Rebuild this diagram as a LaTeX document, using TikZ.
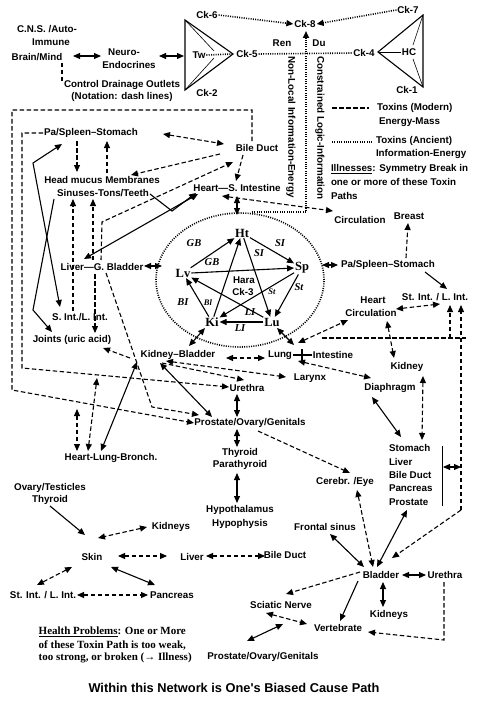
\documentclass[tikz,border=0pt]{standalone}
\usepackage{fontspec}
\newfontfamily\ar{Liberation Sans}
\newfontfamily\tm{Liberation Serif}
\usetikzlibrary{arrows.meta}
\begin{document}
\begin{tikzpicture}[x=1pt,y=-1pt,
  >={Triangle[length=7pt,width=6pt]},
  t/.style={font=\ar\bfseries\fontsize{9.8}{11}\selectfont, inner sep=0.8pt},
  tl/.style={t, anchor=west},
  org/.style={font=\tm\bfseries\fontsize{12.5}{14}\selectfont, inner sep=0.8pt},
  lab/.style={font=\tm\bfseries\itshape\fontsize{10.5}{12}\selectfont, inner sep=0.5pt},
  labs/.style={font=\tm\bfseries\itshape\fontsize{8.5}{10}\selectfont, inner sep=0.5pt},
  hp/.style={font=\tm\bfseries\fontsize{11}{13}\selectfont, inner sep=0.5pt, anchor=west},
  ln/.style={line width=1.1pt},
  thinln/.style={line width=0.6pt},
  dsh/.style={line width=1.1pt, dash pattern=on 4.5pt off 2.5pt},
  dot/.style={line width=1.6pt, dash pattern=on 1pt off 1.3pt}]
\path[use as bounding box] (0,0) rectangle (480,706);

% ---------- top ----------
\node[t] (cns1) at (47,29) {C.N.S. /Auto-};
\node[t] (cns2) at (51,42) {Immune};
\node[t] (brain) at (37,57) {Brain/Mind};
\node[t] (neu1) at (124,52) {Neuro-};
\node[t] (neu2) at (129,65) {Endocrines};
\node[t] (ctl1) at (122,85) {Control Drainage Outlets};
\node[t] (ctl2) at (122,97) {(Notation: dash lines)};
\draw[dsh] (62,63) -- (62,81);
\draw[ln,<->] (73,56) -- (101,56);
\draw[ln,<->] (159,56) -- (184,56);

\coordinate (twA) at (185,20);
\coordinate (twB) at (185,90);
\coordinate (twC) at (233,54);
\draw[ln] (twA) -- (twB) -- (twC) -- cycle;
\draw[thinln] (twA) -- (214,51);
\draw[thinln] (twB) -- (214,58);
\node[t] (tw) at (199,55) {Tw};
\draw[dot] (tw.east) -- (twC);
\node[t] (ck6) at (207,15) {Ck-6};
\node[t] (ck2) at (207,93) {Ck-2};
\node[t] (ck5) at (247,54) {Ck-5};
\node[t] (ck8) at (305,24) {Ck-8};
\node[t] (ren) at (282,43) {Ren};
\node[t] (du) at (319,43) {Du};

\coordinate (hcT) at (423,15);
\coordinate (hcB) at (423,87);
\coordinate (hcL) at (378,52);
\draw[ln] (hcT) -- (hcB) -- (hcL) -- cycle;
\node[t] (hc) at (409,52) {HC};
\draw[thinln] (hcL) -- (hc.west);
\draw[thinln] (hcT) -- (413,45);
\draw[thinln] (hcB) -- (413,59);
\node[t] (ck7) at (408,10) {Ck-7};
\node[t] (ck4) at (364,53) {Ck-4};
\node[t] (ck1) at (407,90) {Ck-1};

\draw[dot,->] (ck6.east) -- (ck8.west);
\draw[dot,->] (ck7.west) -- (ck8.east);
\draw[dot] (ck5.east) -- (ck4.west);
\coordinate (dtop) at (306,212);
\draw[dot,->] (252,212) -- (dtop) -- (306,31);
\node[t, rotate=-90] (nonloc) at (291,127) {Non-Local Information-Energy};
\node[t, rotate=-90] (constr) at (320,128) {Constrained Logic-Information};

% ---------- legend ----------
\draw[dsh] (332,108) -- (369,108);
\node[tl] (tox1) at (376,108) {Toxins (Modern)};
\node[tl] (em) at (378,122) {Energy-Mass};
\draw[dot] (332,142) -- (372,142);
\node[tl] (tox2) at (375,141) {Toxins (Ancient)};
\node[tl] (ie) at (375,154) {Information-Energy};
\node[tl] (ill1) at (330,169) {\underline{Illnesses}: Symmetry Break in};
\node[tl] (ill2) at (330,182) {one or more of these Toxin};
\node[tl] (ill3) at (330,196) {Paths};

% ---------- frame area ----------
\node[t] (psl) at (91,133) {Pa/Spleen–Stomach};
\node[t] (bile) at (257,148) {Bile Duct};
\node[t] (hmm1) at (102,180) {Head mucus Membranes};
\node[t] (hmm2) at (103,193) {Sinuses-Tons/Teeth};
\node[t] (heart) at (237,188) {Heart—S. Intestine};
\node[t] (liv) at (102,267) {Liver—G. Bladder};
\node[t] (sil) at (80,317) {S. Int./L. Int.};
\node[t] (joints) at (72,340) {Joints (uric acid)};

% outer and inner dashed frames
\draw[dsh,->] (252,141) -- (252,110) -- (12,110) -- (12,390) -- (194,423);
\draw[dsh,->] (psl.west) -- (22,133) -- (22,368) -- (229,387);

\draw[dsh,<->] (163,134) -- (224,144);
\draw[dsh,->] (77,141) -- (77,172);
\draw[dsh,->] (107,173) -- (107,141);
\draw[dsh,->] (220,154) -- (131,175);
\draw[dsh,->] (243,155) -- (236,181);
\draw[ln,<->] (62,144) -- (33,163) -- (60,307);
\draw[ln,->] (54,199) -- (33,310) -- (52,332);
\draw[ln,->] (150,194) -- (172,211) -- (196,193);
\draw[ln,<->] (84,259) -- (198,194);
\draw[dsh,->] (101,260) -- (102,222) -- (233,162);
\draw[dsh,->] (73,311) -- (73,199);
\draw[dsh,->] (93,260) -- (93,199);
\draw[dsh,->] (95,274) -- (95,333);
\draw[dsh,->] (106,273) -- (152,407) -- (199,415);

% ---------- ellipse ----------
\draw[dot] (240,280) ellipse [x radius=84pt, y radius=67pt];
\draw[ln,<->] (237,196) -- (237,215);
\draw[ln,<->] (144,266) -- (162,266);
\draw[ln,<->] (322,265) -- (338,265);
\draw[dsh,<->] (222,196) -- (333,211);

\node[org] (ht) at (242,233) {Ht};
\node[org] (sp) at (302,268) {Sp};
\node[org] (lv) at (183,273) {Lv};
\node[org] (ki) at (212,322) {Ki};
\node[org] (lu) at (272,322) {Lu};
\node[t] (hara) at (244,280) {Hara};
\node[t] (ck3) at (243,292) {Ck-3};
\draw[ln,->] (lv) -- (ht);
\draw[ln,->] (ht) -- (sp);
\draw[ln,->] (ht) -- (lu);
\draw[ln,->] (ki) -- (ht);
\draw[ln,->] (lv.east) -- (sp.west);
\draw[ln,->] (sp) -- (ki);
\draw[ln,->] (sp) -- (lu);
\draw[ln,->] (lu) -- (lv);
\draw[ln,->] (ki) -- (lv);
\draw[ln,->] (lu) -- (ki);
\node[lab] (gb1) at (194,243) {GB};
\node[lab] (si1) at (280,243) {SI};
\node[lab] (gb2) at (212,262) {GB};
\node[lab] (si2) at (259,253) {SI};
\node[lab] (st1) at (299,287) {St};
\node[labs] (st2) at (272,292) {St};
\node[lab] (bi1) at (183,302) {BI};
\node[labs] (bi2) at (208,303) {Bl};
\node[lab] (li1) at (250,312) {LI};
\node[lab] (li2) at (240,328) {LI};

% ---------- right side ----------
\node[t] (circ) at (360,220) {Circulation};
\node[t] (breast) at (409,216) {Breast};
\node[t] (psr) at (388,265) {Pa/Spleen–Stomach};
\node[t] (stint) at (435,297) {St. Int. / L. Int.};
\node[t] (hc1) at (373,300) {Heart};
\node[t] (hc2) at (371,313) {Circulation};
\node[t] (kidney) at (407,367) {Kidney};
\node[t] (diaph) at (390,388) {Diaphragm};
\node[tl] (stom) at (388,448) {Stomach};
\node[tl] (livr) at (388,461.5) {Liver};
\node[tl] (bd2) at (388,475) {Bile Duct};
\node[tl] (panc2) at (388,488.5) {Pancreas};
\node[tl] (pros2) at (388,502) {Prostate};
\draw[line width=0.8pt] (442,446) -- (442,506);

\draw[dsh,->] (406,258) -- (408,223);
\draw[ln,->] (425,272) -- (447,289);
\draw[dsh,<->] (396,309) -- (440,304);
\draw[dsh] (322,338) -- (466,338);
\draw[dsh,->] (450,338) -- (450,305);
\coordinate (rbend) at (461,510);
\draw[dsh,->] (rbend) -- (461,305);
\draw[dsh,->] (rbend) -- (392,558);
\draw[ln,<->] (443,467) -- (461,467);
\draw[dsh,<->] (387,321) -- (394,358);
\draw[dsh,<->] (423,376) -- (422,440);
\draw[ln,<->] (372,397) -- (401,437);

% ---------- middle ----------
\node[t] (kb) at (178,355) {Kidney–Bladder};
\node[t] (lung) at (280,355) {Lung};
\node[t] (intes) at (333,355) {Intestine};
\draw[ln] (lung.east) -- (intes.west);
\draw[ln] (302,349) -- (302,362);
\node[t] (larynx) at (310,378) {Larynx};
\node[t] (ureth) at (247,388) {Urethra};
\node[t] (prost) at (250,423) {Prostate/Ovary/Genitals};
\node[t] (hlb) at (111,458) {Heart-Lung-Bronch.};
\node[t] (thy) at (240,453) {Thyroid};
\node[t] (para) at (240,465) {Parathyroid};
\node[t] (hypo1) at (240,510) {Hypothalamus};
\node[t] (hypo2) at (240,524) {Hypophysis};

\draw[ln,<->] (277,328) -- (294,345);
\draw[ln,<->] (205,328) -- (189,346);
\draw[dsh,<->] (226,358) -- (265,358);
\draw[dsh,<->] (298,343) -- (348,320);
\draw[dsh,<->] (298,361) -- (371,378);
\draw[dsh,<->] (166,361) -- (286,377);
\draw[dsh,->] (162,363) -- (244,380);
\draw[dsh,->] (130,358) -- (103,348);
\draw[ln,<->] (160,363) -- (212,417);
\draw[ln,<->] (137,362) -- (101,451);
\draw[dsh,<->] (77,409) -- (77,451);
\draw[dsh,<->] (97,378) -- (88,451);
\draw[ln,<->] (237,394) -- (237,417);
\draw[ln,<->] (237,429) -- (237,447);
\draw[ln,<->] (237,473) -- (237,503);

% ---------- lower right ----------
\node[t] (cer) at (345,482) {Cerebr. /Eye};
\node[t] (front) at (325,527) {Frontal sinus};
\node[t] (bladder) at (381,575) {Bladder};
\node[t] (ureth2) at (445,575) {Urethra};
\node[t] (kidneys2) at (389,615) {Kidneys};
\node[t] (sciatic) at (281,605) {Sciatic Nerve};
\node[t] (vert) at (338,628) {Vertebrate};
\node[t] (prost2) at (263,657) {Prostate/Ovary/Genitals};

\draw[dsh,->] (258,431) -- (350,473);
\draw[dsh,<->] (357,490) -- (373,567);
\draw[ln,<->] (330,534) -- (364,567);
\draw[ln,<->] (407,510) -- (377,567);
\draw[ln,<->] (402,575) -- (426,575);
\draw[dsh,->] (444,582) -- (444,640) -- (368,632);
\draw[dsh,->] (360,572) -- (286,594);
\draw[ln,->] (358,581) -- (340,621);
\draw[ln,<->] (383,582) -- (383,607);
\draw[dsh,<->] (266,613) -- (307,624);
\draw[ln,<->] (283,624) -- (247,641);

% ---------- lower left ----------
\node[t] (ovary) at (50,488) {Ovary/Testicles};
\node[t] (thyr2) at (50,500) {Thyroid};
\node[t] (kidneys3) at (171,527) {Kidneys};
\node[t] (skin) at (92,557) {Skin};
\node[t] (liver3) at (192,557) {Liver};
\node[t] (bile3) at (285,555) {Bile Duct};
\node[t] (stint3) at (43,595) {St. Int. / L. Int.};
\node[t] (panc3) at (172,595) {Pancreas};

\draw[ln,->] (50,506) -- (85,535);
\draw[dsh,<->] (147,527) -- (98,538);
\draw[dsh,<->] (118,556) -- (167,556);
\draw[dsh,<->] (206,556) -- (265,556);
\draw[dsh,<->] (72,567) -- (37,585);
\draw[ln,<->] (111,567) -- (155,585);
\draw[dsh,<->] (77,595) -- (148,595);

% ---------- notes ----------
\node[hp] (hp1) at (38,632) {\underline{Health Problems}: One or More};
\node[hp] (hp2) at (38,645) {of these Toxin Path is too weak,};
\node[hp] (hp3) at (38,658) {too strong, or broken (→ Illness)};
\node[font=\ar\bfseries\fontsize{12.8}{15}\selectfont, inner sep=0.5pt] (foot) at (234,688) {Within this Network is One's Biased Cause Path};
\end{tikzpicture}
\end{document}
